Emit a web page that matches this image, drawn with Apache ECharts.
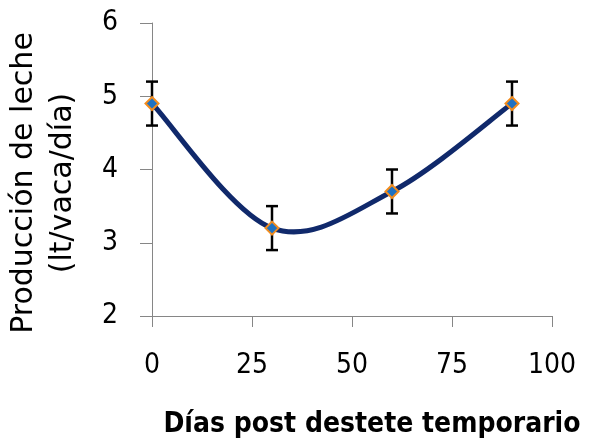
<!DOCTYPE html>
<html>
<head>
<meta charset="utf-8">
<script src="https://cdn.jsdelivr.net/npm/echarts@6/dist/echarts.min.js"></script>
<style>
  html, body { margin: 0; padding: 0; background: #fff; }
  #chart { width: 596px; height: 441px; }
</style>
</head>
<body>
<div id="chart"></div>
<script>
// Milk yield after temporary weaning, with ± error bars
var days = [0, 30, 60, 90];
var yieldMean = [4.9, 3.2, 3.7, 4.9];
var yieldErr = [0.3, 0.3, 0.3, 0.3];
var xTicks = [0, 25, 50, 75, 100];
var yTicks = [2, 3, 4, 5, 6];
var yTitle = ['Producción de leche', '(lt/vaca/día)'];
var xTitle = 'Días post destete temporario';

var font = 'DejaVu Sans Condensed';
var chart = echarts.init(document.getElementById('chart'));

var points = days.map(function (d, i) { return [d, yieldMean[i]]; });
var bars = days.map(function (d, i) {
  return [d, yieldMean[i] - yieldErr[i], yieldMean[i] + yieldErr[i]];
});

// Smoothed curve: cubic Bezier segments with Catmull-Rom style control points
function renderCurve(params, api) {
  var i = params.dataIndex;
  if (i >= points.length - 1) return null;
  var c = points.map(function (p) { return api.coord(p); });
  var prev = c[Math.max(i - 1, 0)];
  var p0 = c[i];
  var p1 = c[i + 1];
  var next = c[Math.min(i + 2, c.length - 1)];
  return {
    type: 'bezierCurve',
    shape: {
      x1: p0[0], y1: p0[1],
      cpx1: p0[0] + (p1[0] - prev[0]) / 6, cpy1: p0[1] + (p1[1] - prev[1]) / 6,
      cpx2: p1[0] - (next[0] - p0[0]) / 6, cpy2: p1[1] - (next[1] - p0[1]) / 6,
      x2: p1[0], y2: p1[1]
    },
    style: { stroke: '#10296b', lineWidth: 5, fill: null, lineCap: 'round' }
  };
}

function renderErrorBar(params, api) {
  var x = api.value(0);
  var lo = api.coord([x, api.value(1)]);
  var hi = api.coord([x, api.value(2)]);
  var cap = 6;
  var st = { stroke: '#000', lineWidth: 2.5 };
  return {
    type: 'group',
    children: [
      { type: 'line', shape: { x1: hi[0], y1: hi[1], x2: lo[0], y2: lo[1] }, style: st },
      { type: 'line', shape: { x1: hi[0] - cap, y1: hi[1], x2: hi[0] + cap, y2: hi[1] }, style: st },
      { type: 'line', shape: { x1: lo[0] - cap, y1: lo[1], x2: lo[0] + cap, y2: lo[1] }, style: st }
    ]
  };
}

chart.setOption({
  animation: false,
  backgroundColor: '#ffffff',
  grid: { left: 152, right: 44, top: 23, bottom: 125, containLabel: false, outerBoundsMode: 'none' },
  xAxis: {
    type: 'value',
    min: xTicks[0], max: xTicks[xTicks.length - 1], interval: 25,
    splitLine: { show: false },
    axisLine: { lineStyle: { color: '#868686', width: 1 } },
    axisTick: { length: 11, lineStyle: { color: '#868686' } },
    axisLabel: { color: '#000', fontSize: 28, fontFamily: font, margin: 36 },
    name: xTitle,
    nameLocation: 'middle',
    nameGap: 95,
    nameTextStyle: { color: '#000', fontSize: 28, fontWeight: 'bold', fontFamily: font, padding: [0, 0, 0, 40] }
  },
  yAxis: {
    type: 'value',
    min: yTicks[0], max: yTicks[yTicks.length - 1], interval: 1,
    splitLine: { show: false },
    axisLine: { show: true, lineStyle: { color: '#868686', width: 1 } },
    axisTick: { show: true, length: 12, lineStyle: { color: '#868686' } },
    axisLabel: { color: '#000', fontSize: 28, fontFamily: font, margin: 34 }
  },
  graphic: [{
    type: 'text',
    x: 44, y: 183,
    rotation: Math.PI / 2,
    style: {
      text: yTitle.join('\n'),
      font: '30px "DejaVu Sans"',
      fill: '#000',
      align: 'center',
      verticalAlign: 'middle',
      lineHeight: 39
    }
  }],
  series: [
    {
      type: 'custom',
      data: points,
      renderItem: renderCurve,
      z: 2
    },
    {
      type: 'custom',
      data: bars,
      renderItem: renderErrorBar,
      z: 3
    },
    {
      type: 'scatter',
      data: points,
      symbol: 'diamond',
      symbolSize: 13,
      itemStyle: { color: '#1f72c2', borderColor: '#f28c1e', borderWidth: 2, opacity: 1 },
      z: 4
    }
  ]
});
</script>
</body>
</html>
